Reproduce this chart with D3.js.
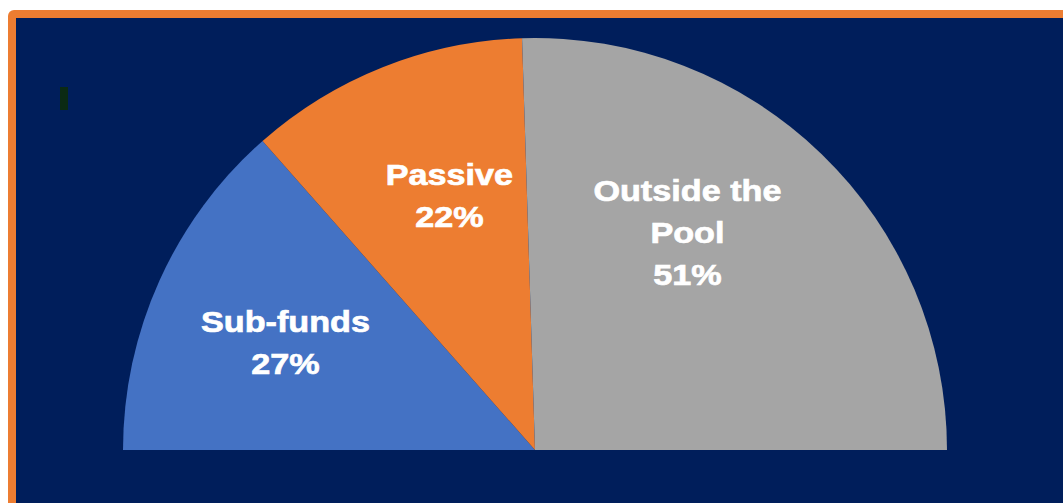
<!DOCTYPE html>
<html>
<head>
<meta charset="utf-8">
<script src="https://cdn.jsdelivr.net/npm/d3@7"></script>
<style>
  html, body { margin: 0; padding: 0; background: #fff; }
  svg { display: block; }
</style>
</head>
<body>
<div id="chart"></div>
<script>
const categories = ['Sub-funds', 'Passive', 'Outside the Pool']
const values = [27, 22, 51]
const labelLines = [['Sub-funds'], ['Passive'], ['Outside the', 'Pool']]
const colors = ['#4472c4', '#ed7d31', '#a5a5a5']

const W = 1063
const H = 503
const cx = 535
const cy = 450
const radius = 412

const svg = d3.select('#chart')
  .append('svg')
  .attr('width', W)
  .attr('height', H)

// frame
svg.append('rect')
  .attr('x', 8).attr('y', 10)
  .attr('width', W + 20).attr('height', H + 20)
  .attr('rx', 6)
  .attr('fill', '#ed7d31')
svg.append('rect')
  .attr('x', 16).attr('y', 18)
  .attr('width', W).attr('height', H)
  .attr('fill', '#001e5b')
svg.append('rect')
  .attr('x', 60).attr('y', 87)
  .attr('width', 8).attr('height', 23)
  .attr('fill', '#0b2a14')

const data = categories.map((c, i) => ({ name: c, value: values[i], lines: labelLines[i] }))

const pie = d3.pie()
  .sort(null)
  .value((d) => d.value)
  .startAngle(-Math.PI / 2)
  .endAngle(Math.PI / 2)

const arcs = pie(data)
const arc = d3.arc().innerRadius(0).outerRadius(radius)
const labelArc = d3.arc().innerRadius(265).outerRadius(265)

const g = svg.append('g').attr('transform', `translate(${cx},${cy})`)

g.selectAll('path')
  .data(arcs)
  .enter()
  .append('path')
  .attr('d', arc)
  .attr('fill', (d, i) => colors[i])

// small nudges so the labels sit where the original put them
const nudge = [[-8, -9], [12, -19], [-32, -59]]

const labels = g.selectAll('text')
  .data(arcs)
  .enter()
  .append('text')
  .attr('transform', (d, i) => {
    const [x, y] = labelArc.centroid(d)
    return `translate(${x + nudge[i][0]},${y + nudge[i][1]}) scale(1.14,1)`
  })
  .attr('text-anchor', 'middle')
  .attr('fill', '#fff')
  .attr('stroke', '#fff')
  .attr('stroke-width', 0.7)
  .style('font-family', '"Liberation Sans", Arial, sans-serif')
  .style('font-weight', 'bold')
  .style('font-size', '30px')

labels.each(function (d) {
  const el = d3.select(this)
  const lines = d.data.lines.concat([d.data.value + '%'])
  lines.forEach((l, j) => {
    el.append('tspan')
      .attr('x', 0)
      .attr('dy', j === 0 ? 0 : 42)
      .text(l)
  })
})
</script>
</body>
</html>
